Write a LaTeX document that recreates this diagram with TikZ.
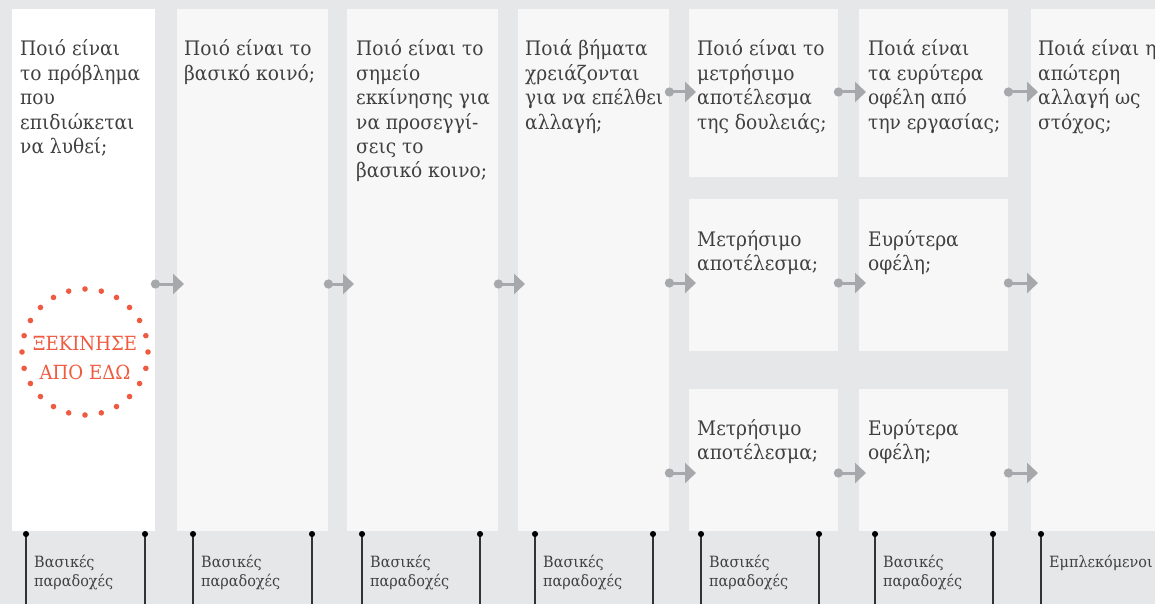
\documentclass[tikz,border=0pt]{standalone}
\usepackage{fontspec}
\setmainfont{DejaVu Serif}[FakeStretch=0.93]
\usetikzlibrary{arrows.meta,calc}
\definecolor{bgc}{HTML}{E6E7E9}
\definecolor{panc}{HTML}{F7F7F7}
\definecolor{arrc}{HTML}{A7A8AB}
\definecolor{txtc}{HTML}{404040}
\definecolor{startc}{HTML}{EF5B40}
\definecolor{linec}{HTML}{333333}
\newcommand\qlines[1]{\begin{tabular}[t]{@{}l@{}}#1\end{tabular}}
\newcommand\clines[1]{\begin{tabular}[t]{@{}c@{}}#1\end{tabular}}
\tikzset{
  panel/.style={fill=panc, draw=none, inner sep=0pt, anchor=north west},
  qtext/.style={inner sep=0pt, anchor=base west, text=txtc, font=\fontsize{20}{24.4}\selectfont},
  btext/.style={inner sep=0pt, anchor=base west, text=txtc, font=\fontsize{15.5}{19}\selectfont},
  flow/.style={draw=arrc, line width=3pt, {Circle[length=9pt,width=9pt,fill=arrc]}-{Triangle[length=11pt,width=20pt,fill=arrc]}},
  vline/.style={draw=linec, line width=1.4pt, {Circle[length=6pt,width=6pt,fill=black,color=black]}-},
}
\begin{document}
\begin{tikzpicture}[x=1pt,y=-1pt]
\useasboundingbox (0,0) rectangle (1155,604);
\fill[bgc] (0,0) rectangle (1155,604);
% panels
\node[panel, fill=white, minimum width=143pt, minimum height=522pt] (p1) at (12,9) {};
\node[panel, minimum width=151pt, minimum height=522pt] (p2) at (177,9) {};
\node[panel, minimum width=151pt, minimum height=522pt] (p3) at (347,9) {};
\node[panel, minimum width=151pt, minimum height=522pt] (p4) at (518,9) {};
\node[panel, minimum width=149pt, minimum height=168pt] (r1a) at (689,9) {};
\node[panel, minimum width=149pt, minimum height=152pt] (r2a) at (689,199) {};
\node[panel, minimum width=149pt, minimum height=142pt] (r3a) at (689,389) {};
\node[panel, minimum width=149pt, minimum height=168pt] (r1b) at (859,9) {};
\node[panel, minimum width=149pt, minimum height=152pt] (r2b) at (859,199) {};
\node[panel, minimum width=149pt, minimum height=142pt] (r3b) at (859,389) {};
\node[panel, minimum width=124pt, minimum height=522pt] (p7) at (1031,9) {};
% texts
\node[qtext] (t1) at (20,56) {\qlines{Ποιό είναι\\το πρόβλημα\\που\\επιδιώκεται\\να λυθεί;}};
\node[qtext] (t2) at (184,56) {\qlines{Ποιό είναι το\\βασικό κοινό;}};
\node[qtext] (t3) at (356,56) {\qlines{Ποιό είναι το\\σημείο\\εκκίνησης για\\να προσεγγί-\\σεις το\\βασικό κοινο;}};
\node[qtext] (t4) at (525,56) {\qlines{Ποιά βήματα\\χρειάζονται\\για να επέλθει\\αλλαγή;}};
\node[qtext] (t5) at (697,56) {\qlines{Ποιό είναι το\\μετρήσιμο\\αποτέλεσμα\\της δουλειάς;}};
\node[qtext] (t6) at (868,56) {\qlines{Ποιά είναι\\τα ευρύτερα\\οφέλη από\\την εργασίας;}};
\node[qtext] (t7) at (1038,56) {\qlines{Ποιά είναι η\\απώτερη\\αλλαγή ως\\στόχος;}};
\node[qtext] (t8) at (697,246) {\qlines{Μετρήσιμο\\αποτέλεσμα;}};
\node[qtext] (t9) at (868,246) {\qlines{Ευρύτερα\\οφέλη;}};
\node[qtext] (t10) at (697,435) {\qlines{Μετρήσιμο\\αποτέλεσμα;}};
\node[qtext] (t11) at (868,435) {\qlines{Ευρύτερα\\οφέλη;}};
% start here
\coordinate (sc) at (85,352);
\foreach \a in {0,15,...,345} \fill[startc] ($(sc)+(\a:63)$) circle[radius=2.8pt];
\node[inner sep=0pt, anchor=base, text=startc, font=\fontsize{19.5}{29}\selectfont] (start) at (85,350) {\clines{ΞΕΚΙΝΗΣΕ\\ΑΠΟ ΕΔΩ}};
% arrow rows
\coordinate (ym) at (0,284);
\coordinate (y1) at (0,92);
\coordinate (y2) at (0,283);
\coordinate (y3) at (0,473);
\draw[flow] ([xshift=-4.5pt]p1.east |- ym) -- ([xshift=7pt]p2.west |- ym);
\draw[flow] ([xshift=-4.5pt]p2.east |- ym) -- ([xshift=7pt]p3.west |- ym);
\draw[flow] ([xshift=-4.5pt]p3.east |- ym) -- ([xshift=7pt]p4.west |- ym);
\draw[flow] ([xshift=-4.5pt]p4.east |- y1) -- ([xshift=7pt]r1a.west |- y1);
\draw[flow] ([xshift=-4.5pt]p4.east |- y2) -- ([xshift=7pt]r2a.west |- y2);
\draw[flow] ([xshift=-4.5pt]p4.east |- y3) -- ([xshift=7pt]r3a.west |- y3);
\draw[flow] ([xshift=-4.5pt]r1a.east |- y1) -- ([xshift=7pt]r1b.west |- y1);
\draw[flow] ([xshift=-4.5pt]r2a.east |- y2) -- ([xshift=7pt]r2b.west |- y2);
\draw[flow] ([xshift=-4.5pt]r3a.east |- y3) -- ([xshift=7pt]r3b.west |- y3);
\draw[flow] ([xshift=-4.5pt]r1b.east |- y1) -- ([xshift=7pt]p7.west |- y1);
\draw[flow] ([xshift=-4.5pt]r2b.east |- y2) -- ([xshift=7pt]p7.west |- y2);
\draw[flow] ([xshift=-4.5pt]r3b.east |- y3) -- ([xshift=7pt]p7.west |- y3);
% bottom lines
\foreach \x in {26,145,193,312,362,480,535,653,701,819,875,993,1041} {
  \draw[vline] (\x,531) -- (\x,606);
}
\node[btext] (b1) at (34,567) {\qlines{Βασικές\\παραδοχές}};
\node[btext] (b2) at (201,567) {\qlines{Βασικές\\παραδοχές}};
\node[btext] (b3) at (370,567) {\qlines{Βασικές\\παραδοχές}};
\node[btext] (b4) at (543,567) {\qlines{Βασικές\\παραδοχές}};
\node[btext] (b5) at (709,567) {\qlines{Βασικές\\παραδοχές}};
\node[btext] (b6) at (883,567) {\qlines{Βασικές\\παραδοχές}};
\node[btext] (b7) at (1049,567) {Εμπλεκόμενοι};
\end{tikzpicture}
\end{document}
